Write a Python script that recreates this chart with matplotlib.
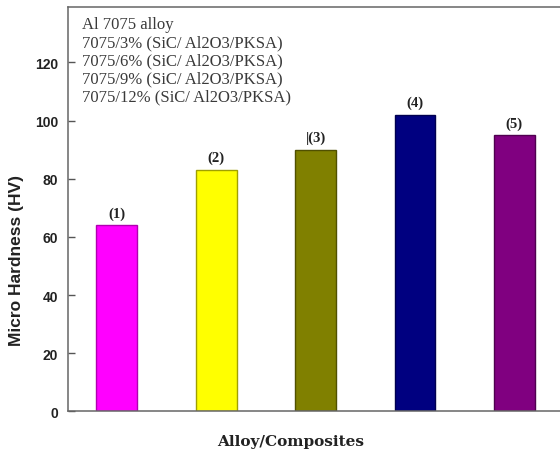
import matplotlib.pyplot as plt

plt.rcParams['ytick.direction'] = 'in'

# Micro hardness of Al 7075 and its hybrid composites
samples = ['Al 7075 alloy', '7075/3% (SiC/ Al2O3/PKSA)', '7075/6% (SiC/ Al2O3/PKSA)',
           '7075/9% (SiC/ Al2O3/PKSA)', '7075/12% (SiC/ Al2O3/PKSA)']
hardness = [64, 83, 90, 102, 95]
bar_labels = ['(1)', '(2)', '|(3)', '(4)', '(5)']
colors = ['#ff00ff', '#ffff00', '#808000', '#000080', '#800080']
edges = ['#b000b0', '#a0a000', '#505000', '#000050', '#500050']

fig = plt.figure(figsize=(5.6, 4.52), dpi=100)
ax = fig.add_axes([0.121, 0.0874, 0.879, 0.8946])

x = list(range(len(hardness)))
bars = ax.bar(x, hardness, width=0.41, color=colors, edgecolor=edges, linewidth=1)

for b, lab in zip(bars, bar_labels):
    ax.annotate(lab, (b.get_x() + b.get_width() / 2, b.get_height()),
                xytext=(0, 4), textcoords='offset points', ha='center', va='bottom',
                fontsize=10.5, fontweight='bold', family='Liberation Serif', color='#222222')

# sample names listed at top left
for i, s in enumerate(samples):
    ax.text(0.028, 0.958 - i * 0.0445, s, transform=ax.transAxes, ha='left', va='center',
            fontsize=12, family='Liberation Serif', color='#3a3a3a')

ax.set_xlim(-0.494, 4.46)
ax.set_ylim(0, 139)
ax.set_yticks([0, 20, 40, 60, 80, 100, 120])
ax.set_xticks([])
ax.tick_params(axis='y', direction='in', length=5, width=1, colors='#555555',
               labelcolor='#222222', pad=7)
for t in ax.get_yticklabels():
    t.set_fontfamily('Liberation Sans')
    t.set_fontweight('bold')
    t.set_fontsize(10)

for side in ['left', 'bottom', 'top']:
    ax.spines[side].set_color('#666666')
    ax.spines[side].set_linewidth(1.1)
ax.spines['right'].set_visible(False)

ax.set_ylabel('Micro Hardness (HV)', fontsize=12.5, fontweight='bold',
              family='Liberation Sans', color='#222222', va='center')
ax.yaxis.set_label_coords(-0.104, 0.377)
ax.set_xlabel('Alloy/Composites', fontsize=11, fontweight='bold',
              family='DejaVu Serif', color='#222222', va='center')
ax.xaxis.set_label_coords(0.453, -0.073)

fig.savefig('out.png', dpi=100)
